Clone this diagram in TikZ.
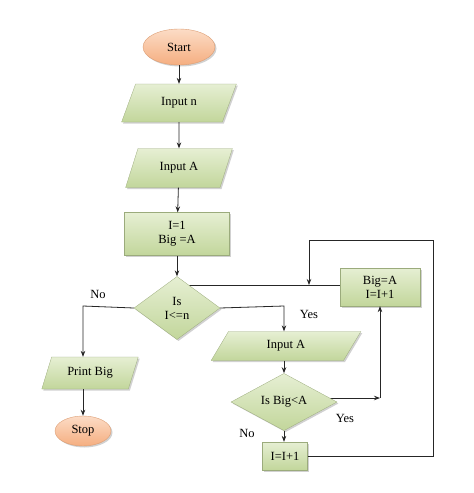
\documentclass[tikz,border=0pt]{standalone}
\usepackage{fontspec}
\setmainfont{Liberation Serif}
\usetikzlibrary{shapes.geometric,arrows.meta,shadows,backgrounds}
\definecolor{gtop}{HTML}{E6EFD3}
\definecolor{gbot}{HTML}{C2D69B}
\definecolor{ptop}{HTML}{FCDCC6}
\definecolor{pbot}{HTML}{F5AE80}
\tikzset{
  base/.style={font=\fontsize{12.5}{14}\selectfont, align=center, inner sep=0pt,
    drop shadow={shadow xshift=1.5pt, shadow yshift=-1.5pt, fill=black!30, opacity=.6}},
  term/.style={base, ellipse, top color=ptop, bottom color=pbot, draw=pbot!90!black, line width=.4pt},
  io/.style={base, trapezium, trapezium left angle=62, trapezium right angle=118,
    trapezium stretches=true, top color=gtop, bottom color=gbot, draw=gbot!80!black, line width=.3pt},
  proc/.style={base, rectangle, top color=gtop, bottom color=gbot, draw=gbot!80!black, line width=.3pt},
  dec/.style={base, diamond, top color=gtop, bottom color=gbot, draw=gbot!80!black, line width=.3pt},
  conn/.style={draw=black!85, line width=.8pt},
  arr/.style={conn, -{Stealth[length=6pt,width=4.5pt]}},
  lbl/.style={font=\fontsize{12.5}{14}\selectfont}
}
\begin{document}
\begin{tikzpicture}[x=1pt,y=-1pt]
\useasboundingbox (0,0) rectangle (474,493);
% column 1
\node[term, minimum width=72, minimum height=36] (start) at (179,47) {Start};
\node[io, minimum width=115, minimum height=38] (in1) at (179,103) {Input n};
\node[io, minimum width=107, minimum height=39] (in2) at (179,168) {Input A};
\node[proc, minimum width=105, minimum height=43] (init) at (177,234) {I=1\\Big =A};
\node[dec, minimum width=86, minimum height=63] (d1) at (177,308) {Is\\I<=n};
% left branch
\node[io, minimum width=97, minimum height=32] (print) at (90,373) {Print Big};
\node[term, minimum width=56, minimum height=30] (stop) at (83,431) {Stop};
% right branch
\node[io, minimum width=150, minimum height=29] (in3) at (286,346) {Input A};
\node[dec, minimum width=106, minimum height=47] (d2) at (284,402) {Is Big<A};
\node[proc, minimum width=45, minimum height=28] (inc) at (285,456) {I=I+1};
\node[proc, minimum width=80, minimum height=38] (bigA) at (380,287) {Big=A\\I=I+1};
% coordinates
\coordinate (cno) at (83,306);
\coordinate (cyes) at (284,306);
\coordinate (cr) at (433,456);
\coordinate (ct) at (433,240);
\coordinate (cl) at (309,240);
\coordinate (cj) at (309,285);
\coordinate (cb) at (380,398);
% connectors
\draw[arr] (start) -- (in1);
\draw[arr] (in1) -- (in2);
\draw[arr] (in2) -- (init);
\draw[arr] (init.south) -- (d1.north);
\draw[arr] (d1.west) -- (cno) -- (cno |- print.north);
\draw[arr] (stop |- print.south) -- (stop.north);
\draw[arr] (d1.east) -- (cyes) -- (cyes |- in3.north);
\draw[arr] (cyes |- in3.south) -- (d2.north);
\draw[arr] (cb) -- (bigA.south);
\draw[arr] (d2.south) -- (inc.north -| d2.south);
\draw[arr] (inc.east) -- (cr) -- (ct) -- (cl) -- (cj);
\begin{scope}[on background layer]
\draw[conn] (bigA.west |- cj) -- (cj -| d1.north);
\draw[arr] (d2.center |- cb) -- (cb);
\end{scope}
% labels
\node[lbl] (lno1) at (98,294) {No};
\node[lbl] (lyes1) at (309,314) {Yes};
\node[lbl] (lyes2) at (345,418) {Yes};
\node[lbl] (lno2) at (247,433) {No};
\end{tikzpicture}
\end{document}
